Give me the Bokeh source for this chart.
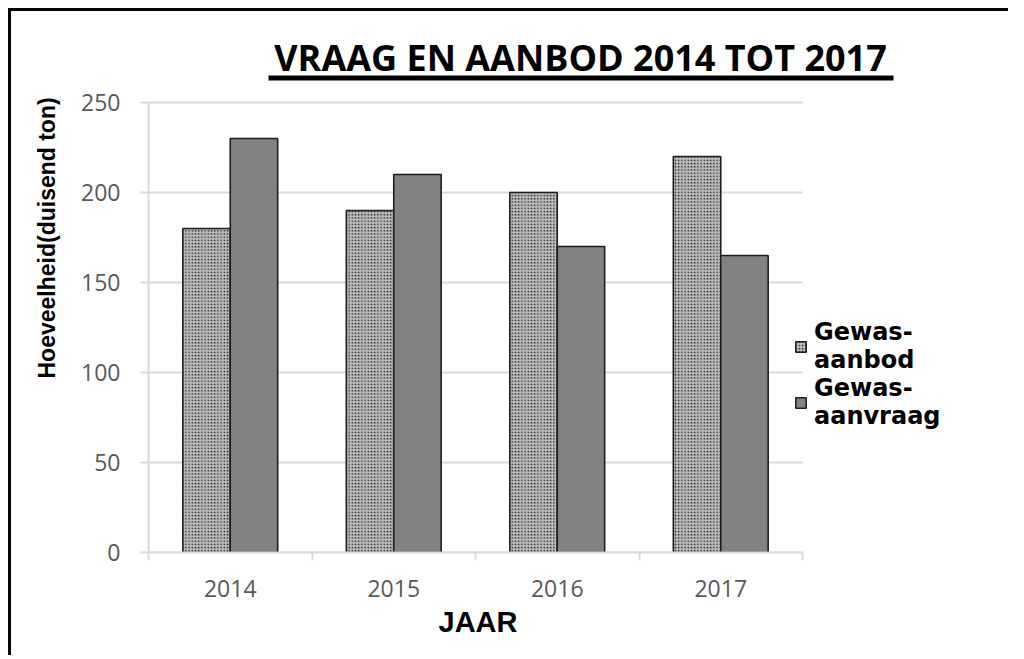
import numpy as np
from bokeh.plotting import figure
from bokeh.models import (ColumnDataSource, FixedTicker, Label, BoxAnnotation,
                          Legend, LegendItem, Title)
from bokeh.embed import file_html
from bokeh.resources import INLINE

# ---- data ----
years = ["2014", "2015", "2016", "2017"]
aanbod = [180, 190, 200, 220]
aanvraag = [230, 210, 170, 165]
series = ["Gewas-\naanbod", "Gewas-\naanvraag"]
y_ticks = [0, 50, 100, 150, 200, 250]
title_text = "VRAAG EN AANBOD 2014 TOT 2017"
x_title = "JAAR"
y_title = "Hoeveelheid(duisend ton)"

bar_w = 0.29
idx = np.arange(len(years))
centers = idx + 0.5
src = ColumnDataSource(dict(
    x1=centers - bar_w / 2, x2=centers + bar_w / 2,
    aanbod=aanbod, aanvraag=aanvraag))

# layout: category area is 654px wide; the frame continues to the right for the legend
cat_px = 654
frame_w = 856
x_end = len(years) * frame_w / cat_px

p = figure(frame_width=frame_w, frame_height=522, x_range=(0, x_end), y_range=(0, 290),
           output_backend="svg", toolbar_location=None,
           min_border_left=137, min_border_right=4,
           min_border_top=19, min_border_bottom=103)
p.styles = {"border-top": "3px solid black", "border-left": "3px solid black",
            "border-right": "none", "border-bottom": "none",
            "margin-left": "8px", "margin-top": "8px"}
p.outline_line_color = None
p.background_fill_color = "white"
p.border_fill_color = "white"

grid_c = "#d9d9d9"
# horizontal gridlines limited to the category area
p.segment(x0=0, x1=len(years), y0=y_ticks, y1=y_ticks, line_color=grid_c, line_width=2)

r1 = p.vbar(x="x1", top="aanbod", width=bar_w, source=src,
            fill_color="#bcbcbc", hatch_pattern="dot", hatch_color="#1e1e1e",
            hatch_scale=3.2, hatch_weight=1.3,
            line_color="#1e1e1e", line_width=1.6)
r2 = p.vbar(x="x2", top="aanvraag", width=bar_w, source=src,
            fill_color="#828282", line_color="#1e1e1e", line_width=1.6)

# y axis
p.yaxis.ticker = FixedTicker(ticks=y_ticks)
p.yaxis.bounds = (y_ticks[0], y_ticks[-1])
p.yaxis.axis_line_color = grid_c
p.yaxis.axis_line_width = 2
p.yaxis.major_tick_line_color = grid_c
p.yaxis.major_tick_line_width = 2
p.yaxis.major_tick_out = 8
p.yaxis.major_tick_in = 0
p.yaxis.minor_tick_line_color = None
p.yaxis.major_label_text_font = "Open Sans"
p.yaxis.major_label_text_font_size = "23px"
p.yaxis.major_label_text_color = "#595959"
p.yaxis.major_label_standoff = 20

# x axis
p.xaxis.ticker = FixedTicker(ticks=list(centers), minor_ticks=list(range(len(years) + 1)))
p.xaxis.bounds = (0, len(years))
p.xaxis.major_label_overrides = {float(c): y for c, y in zip(centers, years)}
p.xaxis.axis_line_color = grid_c
p.xaxis.axis_line_width = 2
p.xaxis.major_tick_line_color = None
p.xaxis.major_tick_out = 0
p.xaxis.major_tick_in = 0
p.xaxis.minor_tick_line_color = grid_c
p.xaxis.minor_tick_line_width = 2
p.xaxis.minor_tick_out = 8
p.xaxis.minor_tick_in = 0
p.xaxis.major_label_text_font = "Open Sans"
p.xaxis.major_label_text_font_size = "23px"
p.xaxis.major_label_text_color = "#595959"
p.xaxis.major_label_standoff = 19

p.xgrid.grid_line_color = None
p.ygrid.grid_line_color = None

# x title, placed under the category area
xt = Title(text=x_title, align="left", offset=290, standoff=12,
           text_font="Liberation Sans", text_font_style="bold",
           text_font_size="29px", text_color="black", vertical_align="top")
p.add_layout(xt, "below")

# title and underline (inside the frame's upper area)
p.add_layout(Label(x=432, y=495, x_units="screen", y_units="screen", text=title_text,
                   text_font="Open Sans", text_font_style="bold", text_font_size="36px",
                   text_color="black", text_align="center", text_baseline="alphabetic"))
p.add_layout(BoxAnnotation(left=120, right=745, bottom=472, top=477,
                           left_units="screen", right_units="screen",
                           bottom_units="screen", top_units="screen",
                           fill_color="black", fill_alpha=1, line_color=None))
# y title
yt = Title(text=y_title, align="left", offset=174, standoff=38,
           text_font="Liberation Sans", text_font_style="bold",
           text_font_size="23px", text_color="black")
p.add_layout(yt, "left")

leg = Legend(items=[LegendItem(label=series[0], renderers=[r1]),
                    LegendItem(label=series[1], renderers=[r2])],
             location=(646, 122))
leg.background_fill_alpha = 0
leg.border_line_color = None
leg.padding = 0
leg.margin = 0
leg.spacing = -2
leg.glyph_width = 13
leg.glyph_height = 13
leg.label_standoff = 7
leg.label_text_font = "DejaVu Sans"
leg.label_text_font_style = "bold"
leg.label_text_font_size = "24px"
leg.label_text_line_height = 0.88
leg.label_text_color = "black"
p.add_layout(leg)

open("out.html", "w").write(file_html(p, INLINE))
